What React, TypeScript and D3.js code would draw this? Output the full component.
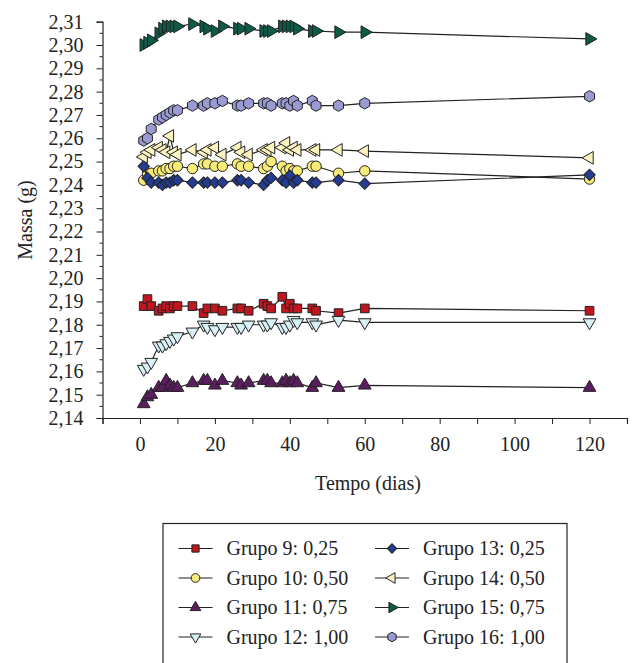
import React, { useEffect, useRef } from 'react'
import * as d3 from 'd3'

// data
const days = [1, 2, 3, 5, 6, 7, 8, 9, 10, 14, 17, 18, 20, 22, 26, 27, 29, 33, 34, 35, 38, 39, 40, 41, 42, 46, 47, 53, 60, 120]

const grupo9 = [2.188, 2.191, 2.188, 2.186, 2.187, 2.188, 2.187, 2.188, 2.188, 2.188, 2.185, 2.187, 2.187, 2.186, 2.187, 2.187, 2.186, 2.189, 2.188, 2.187, 2.192, 2.187, 2.189, 2.187, 2.187, 2.187, 2.186, 2.185, 2.187, 2.186]
const grupo10 = [2.242, 2.245, 2.245, 2.246, 2.246, 2.247, 2.247, 2.248, 2.248, 2.247, 2.249, 2.249, 2.248, 2.248, 2.249, 2.248, 2.248, 2.247, 2.248, 2.250, 2.248, 2.246, 2.247, 2.246, 2.246, 2.248, 2.248, 2.245, 2.246, 2.2425]
const grupo11 = [2.146, 2.149, 2.150, 2.153, 2.153, 2.156, 2.154, 2.153, 2.153, 2.155, 2.156, 2.156, 2.154, 2.156, 2.155, 2.154, 2.155, 2.156, 2.156, 2.155, 2.155, 2.156, 2.155, 2.156, 2.155, 2.153, 2.155, 2.153, 2.154, 2.153]
const grupo12 = [2.161, 2.162, 2.164, 2.171, 2.171, 2.172, 2.173, 2.174, 2.175, 2.177, 2.180, 2.179, 2.178, 2.179, 2.179, 2.179, 2.180, 2.180, 2.180, 2.181, 2.179, 2.179, 2.180, 2.182, 2.181, 2.181, 2.180, 2.182, 2.181, 2.181]
const grupo13 = [2.248, 2.243, 2.241, 2.241, 2.240, 2.241, 2.241, 2.242, 2.242, 2.241, 2.241, 2.241, 2.241, 2.241, 2.242, 2.242, 2.241, 2.240, 2.242, 2.243, 2.242, 2.241, 2.244, 2.241, 2.242, 2.241, 2.241, 2.242, 2.2405, 2.2443]
const grupo14 = [2.252, 2.254, 2.255, 2.256, 2.255, 2.254, 2.261, 2.254, 2.253, 2.255, 2.254, 2.255, 2.256, 2.253, 2.256, 2.254, 2.253, 2.255, 2.255, 2.256, 2.256, 2.258, 2.255, 2.256, 2.255, 2.255, 2.255, 2.255, 2.2545, 2.2516]
const grupo15 = [2.300, 2.301, 2.302, 2.305, 2.307, 2.308, 2.308, 2.308, 2.308, 2.309, 2.308, 2.307, 2.306, 2.308, 2.307, 2.307, 2.307, 2.306, 2.306, 2.306, 2.308, 2.308, 2.308, 2.308, 2.307, 2.306, 2.306, 2.3055, 2.3055, 2.3026]
const grupo16 = [2.259, 2.260, 2.264, 2.268, 2.269, 2.270, 2.271, 2.272, 2.272, 2.274, 2.274, 2.275, 2.275, 2.276, 2.274, 2.274, 2.275, 2.275, 2.275, 2.274, 2.275, 2.275, 2.274, 2.276, 2.274, 2.276, 2.274, 2.274, 2.275, 2.278]

const legendLabels = ['Grupo 9: 0,25', 'Grupo 10: 0,50', 'Grupo 11: 0,75', 'Grupo 12: 1,00', 'Grupo 13: 0,25', 'Grupo 14: 0,50', 'Grupo 15: 0,75', 'Grupo 16: 1,00']
const yTicks = d3.range(214, 232).map(v => v / 100)
const xTicks = [0, 20, 40, 60, 80, 100, 120]

const hexagon: d3.SymbolType = {
    draw(ctx, size) {
        const r = Math.sqrt(size / (1.5 * Math.sqrt(3)))
        for (let i = 0; i < 6; i++) {
            const a = Math.PI / 3 * i + Math.PI / 6
            const x = r * Math.cos(a), y = r * Math.sin(a)
            if (i === 0) ctx.moveTo(x, y); else ctx.lineTo(x, y)
        }
        ctx.closePath()
    }
}

const series = [
    { values: grupo9, type: d3.symbolSquare, size: 75, rot: 0, fill: '#c0161f' },
    { values: grupo10, type: d3.symbolCircle, size: 85, rot: 0, fill: '#f8ec78' },
    { values: grupo11, type: d3.symbolTriangle, size: 70, rot: 0, fill: '#5b1d5e' },
    { values: grupo12, type: d3.symbolTriangle, size: 70, rot: 180, fill: '#d7f1f6' },
    { values: grupo13, type: d3.symbolSquare, size: 65, rot: 45, fill: '#243c92' },
    { values: grupo14, type: d3.symbolTriangle, size: 70, rot: -90, fill: '#fbf4c0' },
    { values: grupo15, type: d3.symbolTriangle, size: 70, rot: 90, fill: '#0e5a48' },
    { values: grupo16, type: hexagon, size: 85, rot: 0, fill: '#9b9bd3' },
]

const FONT = '"Liberation Serif", "DejaVu Serif", serif'
const FS = 20

export default function App() {
    const ref = useRef<SVGSVGElement>(null)

    useEffect(() => {
        const svg = d3.select(ref.current)
        svg.selectAll('*').remove()

        const x = d3.scaleLinear().domain([-10, 130]).range([102.5, 627])
        const y = d3.scaleLinear().domain([2.14, 2.31]).range([418, 21.7])

        // y axis
        const yAxis = svg.append('g').attr('transform', 'translate(102.5,0)')
        yAxis.call(d3.axisLeft(y).tickValues(yTicks).tickSize(6).tickPadding(13)
            .tickFormat(d => d3.format('.2f')(d as number).replace('.', ',')))
        yAxis.append('g').selectAll('line')
            .data(d3.range(214, 231).map(v => v / 100 + 0.005))
            .enter().append('line')
            .attr('x1', -3).attr('x2', 0)
            .attr('y1', d => y(d)).attr('y2', d => y(d))
            .attr('stroke', '#222')

        // x axis
        const xAxis = svg.append('g').attr('transform', 'translate(0,418)')
        xAxis.call(d3.axisBottom(x).tickValues(d3.range(-10, 131, 10)).tickSize(6)
            .tickFormat(d => xTicks.includes(d as number) ? String(d) : ''))
            .selectAll('text').attr('dy', '1.2em')

        svg.selectAll('g').attr('font-family', null)
        svg.selectAll('.domain').attr('stroke', '#222').attr('stroke-width', 1.2)
        svg.selectAll('.tick line').attr('stroke', '#222')
        svg.selectAll('.tick text')
            .style('font-family', FONT).style('font-size', FS + 'px').attr('fill', '#222')

        // axis titles
        svg.append('text')
            .attr('transform', 'translate(32,220) rotate(-90)')
            .attr('text-anchor', 'middle')
            .style('font-family', FONT).style('font-size', FS + 'px').attr('fill', '#222')
            .text('Massa (g)')
        svg.append('text')
            .attr('x', 368).attr('y', 490)
            .attr('text-anchor', 'middle')
            .style('font-family', FONT).style('font-size', FS + 'px').attr('fill', '#222')
            .text('Tempo (dias)')

        // series
        const line = d3.line<number>().x((d, i) => x(days[i])).y(d => y(d))
        series.forEach(s => {
            const g = svg.append('g')
            g.append('path')
                .attr('d', line(s.values))
                .attr('fill', 'none')
                .attr('stroke', '#222')
                .attr('stroke-width', 1.2)
            g.selectAll('path.m')
                .data(s.values)
                .enter()
                .append('path')
                .attr('class', 'm')
                .attr('d', d3.symbol().type(s.type).size(s.size)())
                .attr('transform', (d, i) => `translate(${x(days[i])},${y(d)}) rotate(${s.rot})`)
                .attr('fill', s.fill)
                .attr('stroke', '#222')
                .attr('stroke-width', 1)
        })

        // legend
        const legend = svg.append('g')
        legend.append('rect')
            .attr('x', 163).attr('y', 523.5).attr('width', 404).attr('height', 160)
            .attr('fill', 'white').attr('stroke', '#222').attr('stroke-width', 1.2)
        legendLabels.forEach((label, i) => {
            const s = series[i]
            const col = i < 4 ? 0 : 1
            const row = i % 4
            const cx = col === 0 ? 195.5 : 392
            const cy = 548.5 + row * 29.5
            legend.append('line')
                .attr('x1', cx - 17).attr('x2', cx + 17)
                .attr('y1', cy).attr('y2', cy)
                .attr('stroke', '#222').attr('stroke-width', 1.2)
            legend.append('path')
                .attr('d', d3.symbol().type(s.type).size(s.size * 0.7)())
                .attr('transform', `translate(${cx},${cy}) rotate(${s.rot})`)
                .attr('fill', s.fill)
                .attr('stroke', '#222')
            legend.append('text')
                .attr('x', cx + 31).attr('y', cy + 6.5)
                .style('font-family', FONT).style('font-size', FS + 'px').attr('fill', '#222')
                .text(label)
        })
    }, [])

    return (
        <svg ref={ref} width={633} height={663}
            style={{ position: 'absolute', left: 0, top: 0, background: 'white' }} />
    )
}
